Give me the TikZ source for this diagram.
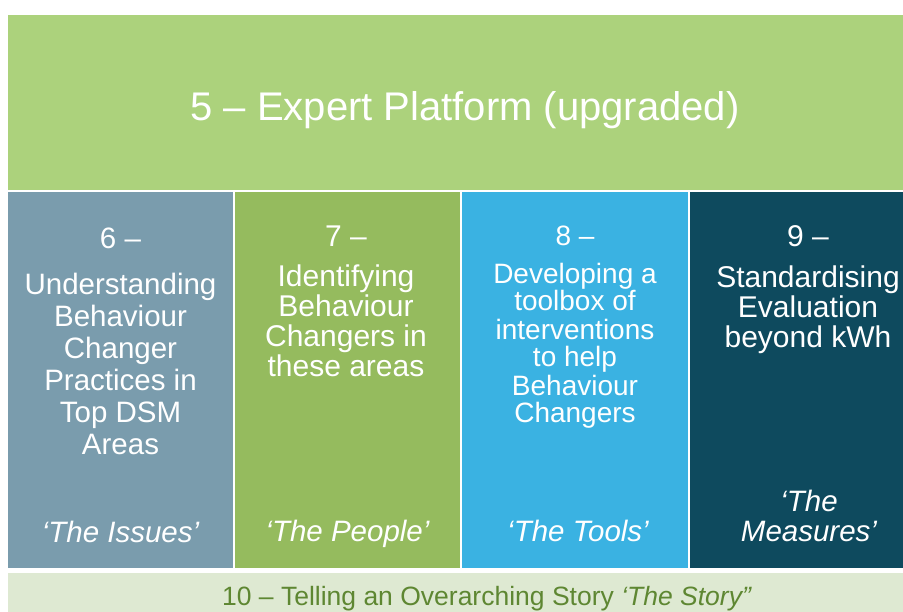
\documentclass[tikz,border=0pt]{standalone}
\usepackage{fontspec}
\setmainfont{Liberation Sans}
\definecolor{platgreen}{HTML}{ACD27C}
\definecolor{issuesblue}{HTML}{7A9CAD}
\definecolor{peoplegreen}{HTML}{95BB5E}
\definecolor{toolsblue}{HTML}{3AB2E2}
\definecolor{measuresteal}{HTML}{0E4A5E}
\definecolor{storyband}{HTML}{DEE9D2}
\definecolor{storytext}{HTML}{5E8732}
\tikzset{
  lbl/.style={text=white, anchor=base, inner sep=0pt, align=center},
  tag/.style={lbl, font=\fontsize{29.5}{30}\selectfont\itshape}
}
\begin{document}
\begin{tikzpicture}[x=1pt,y=-1pt]
            \clip (0,0) rectangle (903,612);
            \fill[platgreen] (8,15) rectangle (940,190);
            \fill[issuesblue] (8,192) rectangle (233,568);
            \fill[peoplegreen] (235,192) rectangle (460,568);
            \fill[toolsblue] (462,192) rectangle (688,568);
            \fill[measuresteal] (690,192) rectangle (940,568);
            \fill[storyband] (8,573) rectangle (940,640);
            \draw (465,121) node[lbl,font=\fontsize{40}{44}\selectfont] (platform) {5 – Expert Platform (upgraded)};
            % 6 (base of a multi-line node = last line)
            \draw (120.5,249) node[lbl,font=\fontsize{29.5}{32}\selectfont] (h6) {6 –};
            \draw (120.5,454) node[lbl,font=\fontsize{29.5}{32}\selectfont] (b6) {Understanding\\Behaviour\\Changer\\Practices in\\Top DSM\\Areas};
            \draw (120.5,542) node[tag] (t6) {‘The Issues’};
            % 7
            \draw (346,247) node[lbl,font=\fontsize{30}{30}\selectfont] (h7) {7 –};
            \draw (346,377) node[lbl,font=\fontsize{30}{30}\selectfont] (b7) {Identifying\\Behaviour\\Changers in\\these areas};
            \draw (347.5,541) node[tag] (t7) {‘The People’};
            % 8
            \draw (575,246) node[lbl,font=\fontsize{28}{28}\selectfont] (h8) {8 –};
            \draw (575,423) node[lbl,font=\fontsize{28}{28}\selectfont] (b8) {Developing a\\toolbox of\\interventions\\to help\\Behaviour\\Changers};
            \draw (578,541) node[tag] (t8) {‘The Tools’};
            % 9
            \draw (808,247) node[lbl,font=\fontsize{30}{30}\selectfont] (h9) {9 –};
            \draw (808,348) node[lbl,font=\fontsize{30}{30}\selectfont] (b9) {Standardising\\Evaluation\\beyond kWh};
            \draw (809,541) node[tag] (t9) {‘The\\Measures’};
            % 10
            \draw (487,605) node[lbl,text=storytext,font=\fontsize{26.5}{28}\selectfont] (story) {10 – Telling an Overarching Story \textit{‘The Story”}};
        \end{tikzpicture}
\end{document}
